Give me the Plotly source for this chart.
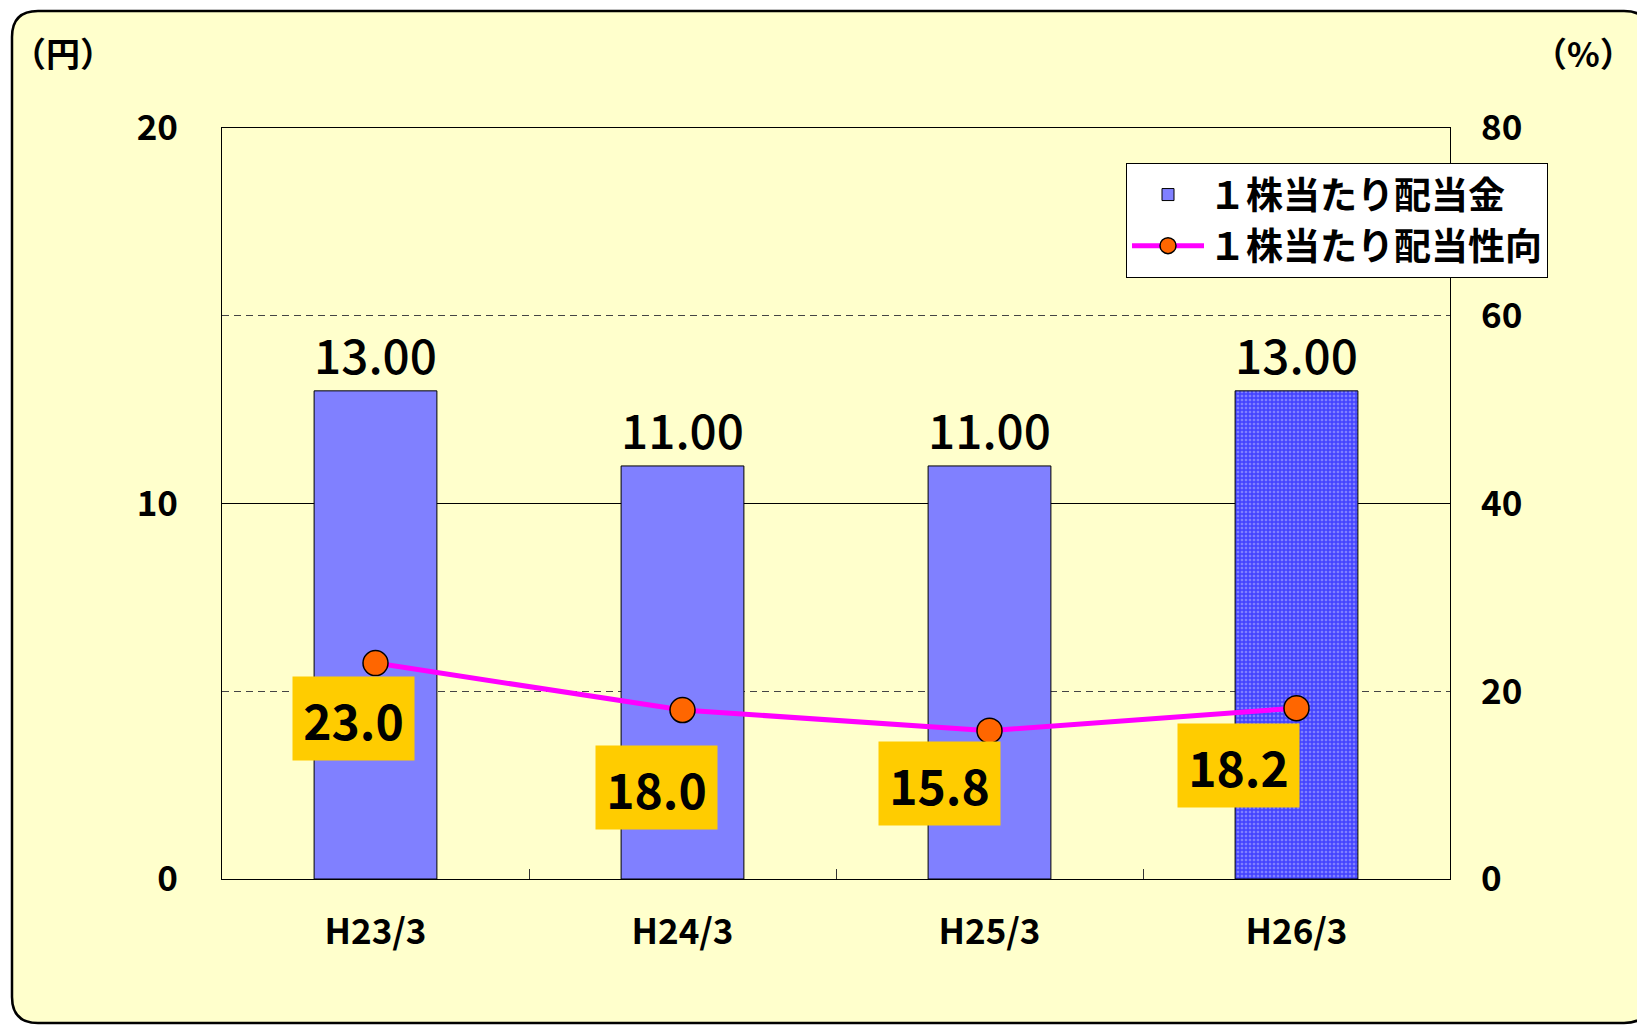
import plotly.graph_objects as go

# ---- data ----
categories = ["H23/3", "H24/3", "H25/3", "H26/3"]
dividend_yen = [13.00, 11.00, 11.00, 13.00]
payout_pct = [23.0, 18.0, 15.8, 18.2]
bar_name = "１株当たり配当金"
line_name = "１株当たり配当性向"
left_ticks = [0, 10, 20]
right_ticks = [0, 20, 40, 60, 80]

# ---- layout constants (pixels) ----
W, H = 1637, 1026
L, R, T, B = 222, 1450, 128, 879
PW, PH = R - L, B - T

def fx(px):
    return (px - L) / PW

def fy(py):
    return 1 - (py - T) / PH

FONT = "Noto Sans CJK JP"
label_offsets = [(-22, -55), (-26, -77), (-50, -53), (-58, -57)]

fig = go.Figure()

fig.add_trace(go.Bar(
    x=categories, y=dividend_yen, name=bar_name,
    marker=dict(
        color="#8080ff",
        line=dict(color="black", width=1),
        pattern=dict(shape=["", "", "", "+"], fgcolor="#0000ff",
                     bgcolor="#8080ff", size=4, solidity=0.6),
    ),
    text=[f"{v:.2f}" for v in dividend_yen],
    textposition="outside",
    textfont=dict(family=FONT, size=48, color="black", weight=500),
    cliponaxis=False,
    width=0.4,
))

fig.add_trace(go.Scatter(
    x=categories, y=payout_pct, name=line_name, yaxis="y2",
    mode="lines+markers",
    line=dict(color="#ff00ff", width=5),
    marker=dict(color="#ff6600", size=25, line=dict(color="black", width=1.5)),
))

for cat, v, (dx, dy) in zip(categories, payout_pct, label_offsets):
    fig.add_annotation(
        x=cat, y=v, xref="x", yref="y2", text=f"{v:.1f}", showarrow=False,
        xshift=dx, yshift=dy, bgcolor="#ffcc00", width=119, height=81,
        font=dict(family=FONT, size=48, color="black", weight="bold"),
    )

# axis unit labels
fig.add_annotation(x=fx(10), y=fy(53), xref="paper", yref="paper", text="<b>（円）</b>",
                   showarrow=False, xanchor="left", yanchor="middle",
                   font=dict(family=FONT, size=34, color="black"))
fig.add_annotation(x=fx(1636), y=fy(53), xref="paper", yref="paper", text="<b>（%）</b>",
                   showarrow=False, xanchor="right", yanchor="middle",
                   font=dict(family=FONT, size=34, color="black"))

# rounded background box
bl, br, bt, bb = fx(12), fx(1650), fy(11), fy(1023)
rr = 26
rx, ry = rr / PW, rr / PH
path = (f"M {bl+rx},{bt} L {br-rx},{bt} Q {br},{bt} {br},{bt-ry} "
        f"L {br},{bb+ry} Q {br},{bb} {br-rx},{bb} "
        f"L {bl+rx},{bb} Q {bl},{bb} {bl},{bb+ry} "
        f"L {bl},{bt-ry} Q {bl},{bt} {bl+rx},{bt} Z")
fig.add_shape(type="path", path=path, xref="paper", yref="paper",
              fillcolor="#ffffcc", line=dict(color="black", width=2.5), layer="below")

fig.update_layout(
    width=W, height=H,
    margin=dict(l=L, r=W - R, t=T, b=H - B, pad=0),
    paper_bgcolor="white",
    plot_bgcolor="#ffffcc",
    font=dict(family=FONT, color="black"),
    showlegend=True,
    legend=dict(
        x=fx(1126), y=fy(163), xanchor="left", yanchor="top",
        bgcolor="white", bordercolor="black", borderwidth=1,
        font=dict(family=FONT, size=37, color="black", weight="bold"),
        itemwidth=72, tracegroupgap=0,
    ),
    bargap=0.6,
    xaxis=dict(
        showline=True, linecolor="black", linewidth=1, mirror=True,
        ticks="inside", ticklen=10, tickcolor="#333", tickson="boundaries",
        showgrid=False,
        tickfont=dict(family=FONT, size=35, color="black", weight="bold"),
        ticklabelstandoff=22,
    ),
    yaxis=dict(
        range=[0, 20], tickvals=left_ticks,
        showline=True, linecolor="black", linewidth=1, mirror=True,
        showgrid=True, gridcolor="black", gridwidth=1, zeroline=False,
        minor=dict(dtick=5, showgrid=True, gridcolor="#444", griddash="7px,5px", gridwidth=1),
        ticks="",
        tickfont=dict(family=FONT, size=35, color="black", weight="bold"),
        ticklabelstandoff=36,
    ),
    yaxis2=dict(
        range=[0, 80], tickvals=right_ticks, overlaying="y", side="right",
        showgrid=False, zeroline=False, showline=False, ticks="",
        tickfont=dict(family=FONT, size=35, color="black", weight="bold"),
        ticklabelstandoff=30,
    ),
)

fig.write_html("out.html", config={"displayModeBar": False},
               post_script="document.body.style.margin='0';")
